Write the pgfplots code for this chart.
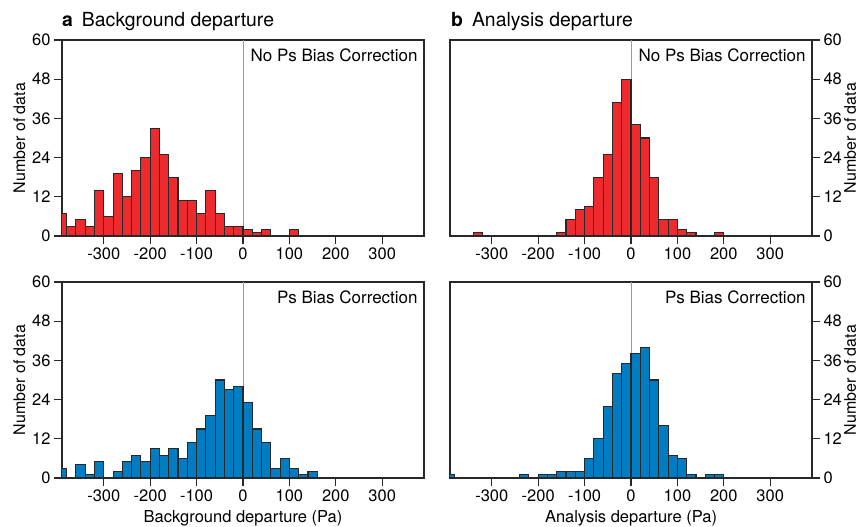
\documentclass[border=0pt]{standalone}
\usepackage{pgfplots}
\pgfplotsset{compat=1.18}
\usepackage{fontspec}
\setmainfont{TeX Gyre Heros}

\definecolor{histred}{RGB}{237,43,47}
\definecolor{histblue}{RGB}{0,124,194}
\definecolor{edge}{RGB}{40,40,40}

\pgfplotsset{
  panel/.style={
    width=362pt, height=196pt, scale only axis,
    anchor=south west,
    xmin=-390, xmax=390, ymin=0, ymax=60,
    xtick={-300,-200,...,300},
    ytick={0,12,...,60},
    tick align=outside,
    xtick pos=bottom,
    major tick length=8pt,
    axis line style={line width=1.2pt, edge},
    tick style={line width=1.1pt, edge},
    tick label style={font=\fontsize{16.5}{18}\selectfont},
    /pgf/number format/assume math mode=true,
    ylabel={Number of data},
  },
  leftpanel/.style={panel, ytick pos=left},
  rightpanel/.style={panel, ytick pos=right, yticklabel pos=right,
    ylabel near ticks, ylabel shift=-4.5pt},
  labels/.style={
    xlabel style={font=\fontsize{16.5}{18}\selectfont, yshift=-2pt},
    ylabel style={font=\fontsize{16}{18}\selectfont},
  },
  hist/.style={ybar interval, draw=edge, line width=1.1pt, fill=#1},
  zeroline/.style={draw=black!40, line width=0.8pt},
}

\newcommand\tag[1]{\node[anchor=base east, inner sep=0pt, font=\fontsize{17}{19}\selectfont]
  at (rel axis cs:0.983,0.888) {#1};}

\begin{document}
\begin{tikzpicture}
\useasboundingbox (0,0) rectangle (860pt,-527pt);

\node[anchor=base west, inner sep=0pt, font=\fontsize{19.4}{22}\selectfont]
  at (62pt,-27pt) {\textbf{a}\hspace{9pt}Background departure};
\node[anchor=base west, inner sep=0pt, font=\fontsize{19.4}{22}\selectfont]
  at (451pt,-27pt) {\textbf{b}\hspace{9pt}Analysis departure};

% a, no bias correction
\begin{axis}[leftpanel, labels, at={(62pt,-236pt)}]
\addplot[zeroline] coordinates {(0,0) (0,60)};
\addplot[hist=histred] coordinates {
  (-400,7) (-380,3) (-360,5) (-340,3) (-320,14) (-300,6) (-280,19) (-260,12)
  (-240,20) (-220,24) (-200,33) (-180,25) (-160,18) (-140,11) (-120,11)
  (-100,7) (-80,14) (-60,7) (-40,3) (-20,3) (0,2) (20,1) (40,2) (60,0)
};
\addplot[hist=histred] coordinates {(100,2) (120,0)};
\tag{No Ps Bias Correction}
\end{axis}

% b, no bias correction
\begin{axis}[rightpanel, labels, at={(450pt,-236pt)}]
\addplot[zeroline] coordinates {(0,0) (0,60)};
\addplot[hist=histred] coordinates {(-340,1) (-320,0)};
\addplot[hist=histred] coordinates {
  (-160,1) (-140,5) (-120,8) (-100,9) (-80,18) (-60,25) (-40,41) (-20,48)
  (0,34) (20,30) (40,18) (60,5) (80,5) (100,2) (120,1) (140,0)
};
\addplot[hist=histred] coordinates {(180,1) (200,0)};
\tag{No Ps Bias Correction}
\end{axis}

% a, bias correction
\begin{axis}[leftpanel, labels, at={(62pt,-478pt)}, xlabel={Background departure (Pa)}]
\addplot[zeroline] coordinates {(0,0) (0,60)};
\addplot[hist=histblue] coordinates {(-400,3) (-380,0)};
\addplot[hist=histblue] coordinates {(-360,4) (-340,1) (-320,5) (-300,0)};
\addplot[hist=histblue] coordinates {
  (-280,2) (-260,5) (-240,7) (-220,5) (-200,9) (-180,7) (-160,9) (-140,6)
  (-120,11) (-100,15) (-80,19) (-60,30) (-40,27) (-20,28) (0,23) (20,15)
  (40,11) (60,3) (80,6) (100,3) (120,1) (140,2) (160,0)
};
\tag{Ps Bias Correction}
\end{axis}

% b, bias correction
\begin{axis}[rightpanel, labels, at={(450pt,-478pt)}, xlabel={Analysis departure (Pa)}]
\addplot[zeroline] coordinates {(0,0) (0,60)};
\addplot[hist=histblue] coordinates {(-400,1) (-380,0)};
\addplot[hist=histblue] coordinates {(-240,1) (-220,0)};
\addplot[hist=histblue] coordinates {
  (-200,1) (-180,1) (-160,2) (-140,2) (-120,2) (-100,6) (-80,12) (-60,22)
  (-40,32) (-20,35) (0,38) (20,40) (40,30) (60,16) (80,7) (100,6) (120,1)
  (140,0)
};
\addplot[hist=histblue] coordinates {(160,1) (180,1) (200,0)};
\tag{Ps Bias Correction}
\end{axis}
\end{tikzpicture}
\end{document}
